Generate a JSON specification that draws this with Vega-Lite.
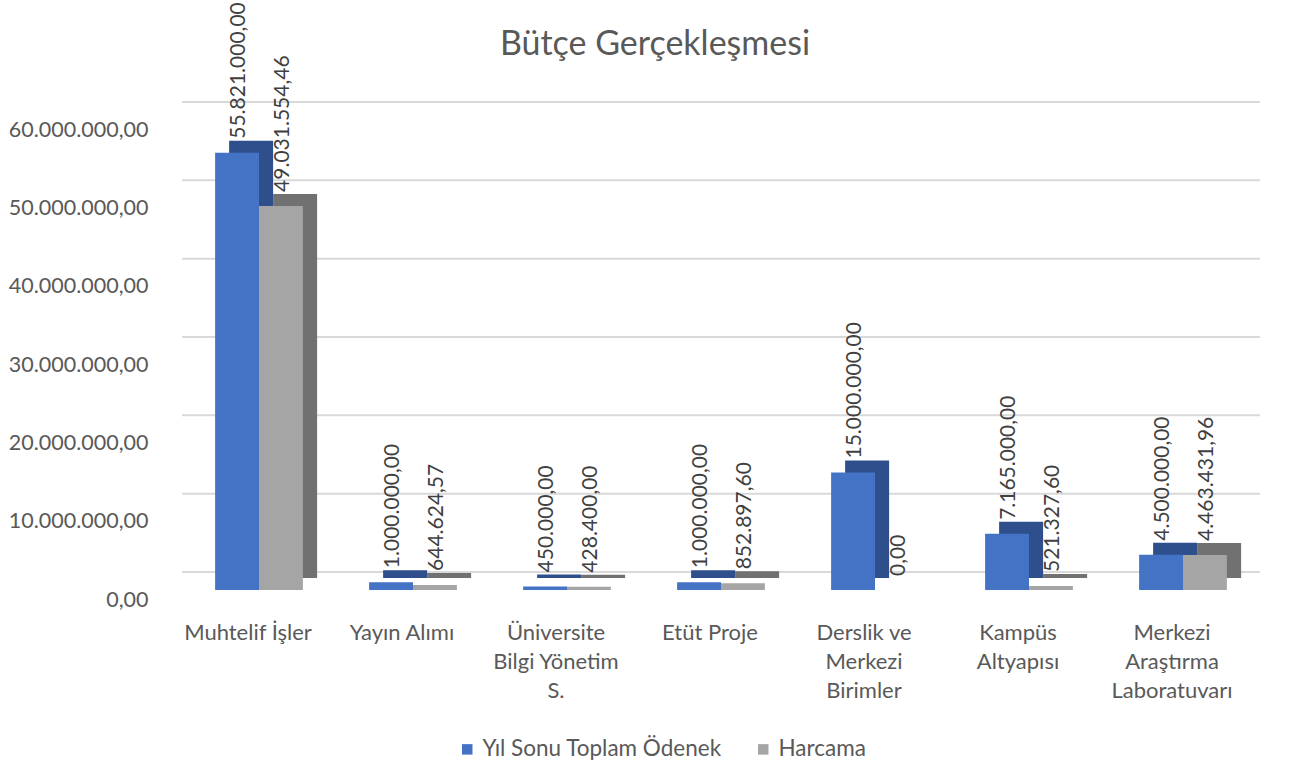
{
  "$schema": "https://vega.github.io/schema/vega-lite/v6.json",
  "autosize": "none",
  "width": 1078,
  "height": 470,
  "padding": {"left": 182, "top": 120, "right": 38, "bottom": 171},
  "background": "#FFFFFF",
  "title": {
    "text": "Bütçe Gerçekleşmesi",
    "anchor": "middle",
    "frame": "group",
    "dx": -66,
    "offset": -60,
    "font": "Lato",
    "fontSize": 34,
    "fontWeight": "normal",
    "color": "#595959"
  },
  "config": {
    "locale": {"number": {"decimal": ",", "thousands": ".", "grouping": [3], "currency": ["", ""]}},
    "view": {"stroke": null},
    "font": "Lato"
  },
  "data": {
    "values": [
      {"category": "Muhtelif İşler", "series": "Yıl Sonu Toplam Ödenek", "value": 55821000.00},
      {"category": "Muhtelif İşler", "series": "Harcama", "value": 49031554.46},
      {"category": "Yayın Alımı", "series": "Yıl Sonu Toplam Ödenek", "value": 1000000.00},
      {"category": "Yayın Alımı", "series": "Harcama", "value": 644624.57},
      {"category": "Üniversite Bilgi Yönetim S.", "series": "Yıl Sonu Toplam Ödenek", "value": 450000.00},
      {"category": "Üniversite Bilgi Yönetim S.", "series": "Harcama", "value": 428400.00},
      {"category": "Etüt Proje", "series": "Yıl Sonu Toplam Ödenek", "value": 1000000.00},
      {"category": "Etüt Proje", "series": "Harcama", "value": 852897.60},
      {"category": "Derslik ve Merkezi Birimler", "series": "Yıl Sonu Toplam Ödenek", "value": 15000000.00},
      {"category": "Derslik ve Merkezi Birimler", "series": "Harcama", "value": 0.00},
      {"category": "Kampüs Altyapısı", "series": "Yıl Sonu Toplam Ödenek", "value": 7165000.00},
      {"category": "Kampüs Altyapısı", "series": "Harcama", "value": 521327.60},
      {"category": "Merkezi Araştırma Laboratuvarı", "series": "Yıl Sonu Toplam Ödenek", "value": 4500000.00},
      {"category": "Merkezi Araştırma Laboratuvarı", "series": "Harcama", "value": 4463431.96}
    ]
  },
  "resolve": {"scale": {"color": "independent", "xOffset": "independent"}},
  "layer": [
    {
      "data": {"values": [{"value": 0}, {"value": 10000000}, {"value": 20000000}, {"value": 30000000}, {"value": 40000000}, {"value": 50000000}, {"value": 60000000}]},
      "mark": {"type": "rule", "color": "#D9D9D9", "strokeWidth": 2, "yOffset": -18},
      "encoding": {
        "y": {"field": "value", "type": "quantitative", "scale": {"domain": [0, 60000000], "nice": false, "zero": true},
          "axis": {"title": null, "grid": false, "domain": false, "ticks": false, "values": [0, 10000000, 20000000, 30000000, 40000000, 50000000, 60000000], "format": ",.2f", "labelFont": "Lato", "labelFontSize": 21.5, "labelColor": "#595959", "labelPadding": 34, "labelOffset": 10}}
      }
    },
    {
      "mark": {"type": "bar", "yOffset": -12},
      "encoding": {
        "x": {"field": "category", "type": "nominal", "sort": null, "scale": {"paddingInner": 0.43, "paddingOuter": 0.215}},
        "xOffset": {"field": "series", "type": "nominal", "sort": ["Yıl Sonu Toplam Ödenek", "Harcama"], "scale": {"range": [14, 102], "paddingInner": 0, "paddingOuter": 0}},
        "y": {"field": "value", "type": "quantitative"},
        "color": {"field": "series", "type": "nominal", "scale": {"domain": ["Yıl Sonu Toplam Ödenek", "Harcama"], "range": ["#2F4E8C", "#717171"]}, "legend": null}
      }
    },
    {
      "mark": {"type": "bar"},
      "encoding": {
        "x": {"field": "category", "type": "nominal", "sort": null,
          "axis": {"title": null, "domain": false, "ticks": false, "labelAngle": 0, "labelAlign": "center", "labelFont": "Lato", "labelFontSize": 22, "labelColor": "#595959", "labelPadding": 32, "labelOffset": -11, "labelLineHeight": 29, "labelBaseline": "top", "labelLimit": 300,
            "labelExpr": "datum.label == 'Üniversite Bilgi Yönetim S.' ? ['Üniversite', 'Bilgi Yönetim', 'S.'] : datum.label == 'Derslik ve Merkezi Birimler' ? ['Derslik ve', 'Merkezi', 'Birimler'] : datum.label == 'Kampüs Altyapısı' ? ['Kampüs', 'Altyapısı'] : datum.label == 'Merkezi Araştırma Laboratuvarı' ? ['Merkezi', 'Araştırma', 'Laboratuvarı'] : datum.label"}},
        "xOffset": {"field": "series", "type": "nominal", "sort": ["Yıl Sonu Toplam Ödenek", "Harcama"]},
        "y": {"field": "value", "type": "quantitative"},
        "color": {"field": "series", "type": "nominal", "scale": {"domain": ["Yıl Sonu Toplam Ödenek", "Harcama"], "range": ["#4472C4", "#A5A5A5"]},
          "legend": {"title": null, "orient": "none", "legendX": 274, "legendY": 618, "direction": "horizontal", "symbolType": "square", "symbolSize": 110, "symbolStrokeWidth": 0, "labelFont": "Lato", "labelFontSize": 22.5, "labelColor": "#595959", "labelLimit": 400, "columnPadding": 30, "labelOffset": 4}}
      }
    },
    {
      "mark": {"type": "text", "angle": -90, "align": "left", "baseline": "middle", "dx": 14, "dy": 2, "font": "Lato", "fontSize": 21, "color": "#404040"},
      "encoding": {
        "x": {"field": "category", "type": "nominal", "sort": null},
        "xOffset": {"field": "series", "type": "nominal", "sort": ["Yıl Sonu Toplam Ödenek", "Harcama"]},
        "y": {"field": "value", "type": "quantitative"},
        "text": {"field": "value", "type": "quantitative", "format": ",.2f"}
      }
    }
  ]
}
